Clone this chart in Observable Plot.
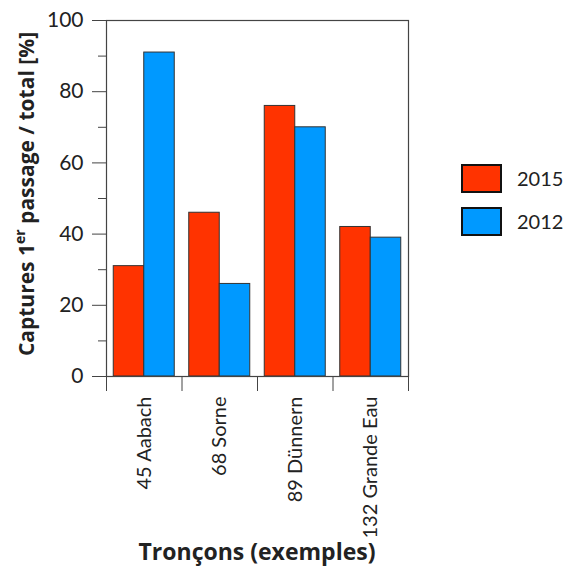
<!DOCTYPE html>
<html>
<head>
<meta charset="utf-8">
<script src="https://cdn.jsdelivr.net/npm/d3@7"></script>
<script src="https://cdn.jsdelivr.net/npm/@observablehq/plot@0.6"></script>
<style>
  html, body { margin: 0; padding: 0; background: #fff; }
  svg { display: block; }
</style>
</head>
<body>
<div id="chart"></div>
<script>
const categories = ["45 Aabach", "68 Sorne", "89 Dünnern", "132 Grande Eau"];
const years = ["2015", "2012"];
const values2015 = [31, 46, 76, 42];
const values2012 = [91, 26, 70, 39];
const majorTicks = [0, 20, 40, 60, 80, 100];
const minorTicks = [10, 30, 50, 70, 90];
const yearColors = ["#ff3300", "#0099ff"];

const seriesByYear = {"2015": values2015, "2012": values2012};
const data = categories.flatMap((c, i) =>
  years.map((yr, j) => ({category: c, index: i, year: yr, slot: j, value: seriesByYear[yr][i]}))
);

const FONT = "Lato, 'Open Sans', sans-serif";
const TITLE_FONT = "'Open Sans', Lato, sans-serif";
const TXT = "#222";
const pad = 0.096, bw = 0.404;

const svg = Plot.plot({
  width: 565,
  height: 574,
  marginLeft: 106,
  marginRight: 157,
  marginTop: 20,
  marginBottom: 198,
  style: {fontFamily: FONT, color: TXT, background: "#fff"},
  x: {domain: [0, categories.length]},
  y: {domain: [0, 100]},
  color: {domain: years, range: yearColors},
  marks: [
    Plot.rectY(data, {
      x1: d => d.index + pad + d.slot * bw,
      x2: d => d.index + pad + (d.slot + 1) * bw,
      y1: 0,
      y2: "value",
      fill: "year",
      stroke: "#333",
      strokeWidth: 1
    }),
    Plot.frame({stroke: "#444", strokeWidth: 1.2}),
    Plot.axisY({ticks: majorTicks, tickSize: 14, tickPadding: 9, fontSize: 21, label: null, stroke: "#444"}),
    Plot.axisY({ticks: minorTicks, tickSize: 8, tickFormat: () => "", label: null, stroke: "#444"}),
    Plot.axisX({ticks: d3.range(categories.length + 1), tickSize: 15, tickFormat: () => "", label: null, stroke: "#444"}),
    Plot.axisX({
      ticks: categories.map((c, i) => i + 0.5),
      tickSize: 0,
      tickPadding: 20,
      tickRotate: -90,
      tickFormat: v => categories[Math.floor(v)],
      fontSize: 20,
      label: null
    })
  ]
});

const s = d3.select(svg);
// y axis label with superscript
const yl = s.append("text")
  .attr("transform", "translate(34,194) rotate(-90)")
  .attr("text-anchor", "middle")
  .attr("font-family", TITLE_FONT)
  .attr("font-weight", "bold")
  .attr("font-size", 21)
  .attr("fill", TXT);
yl.append("tspan").text("Captures 1");
yl.append("tspan").attr("baseline-shift", "super").attr("font-size", 14).text("er");
yl.append("tspan").text(" passage / total [%]");

// x axis title
s.append("text")
  .attr("x", 257).attr("y", 560)
  .attr("text-anchor", "middle")
  .attr("font-family", TITLE_FONT)
  .attr("font-weight", "bold")
  .attr("font-size", 23)
  .attr("fill", TXT)
  .text("Tronçons (exemples)");

// legend
const lg = s.append("g");
years.forEach((yr, j) => {
  lg.append("rect")
    .attr("x", 462).attr("y", 165 + j * 43)
    .attr("width", 39).attr("height", 27)
    .attr("fill", yearColors[j])
    .attr("stroke", "#111").attr("stroke-width", 2);
  lg.append("text")
    .attr("x", 517).attr("y", 186 + j * 43)
    .attr("text-anchor", "start")
    .attr("font-family", FONT)
    .attr("font-size", 20)
    .attr("fill", TXT)
    .text(yr);
});

document.getElementById("chart").appendChild(svg);
</script>
</body>
</html>
